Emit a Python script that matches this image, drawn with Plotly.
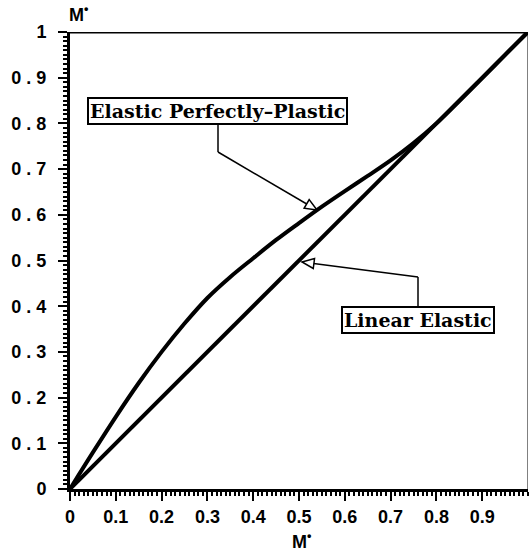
import plotly.graph_objects as go
import math

# ---- data ----
x_epp = [0, 0.05, 0.1, 0.15, 0.2, 0.25, 0.3, 0.35, 0.4, 0.45, 0.5, 0.55, 0.6, 0.65, 0.7, 0.75, 0.8, 0.85, 0.9, 0.95, 1.0]
y_epp = [0, 0.08, 0.158, 0.232, 0.30, 0.362, 0.418, 0.464, 0.505, 0.545, 0.582, 0.618, 0.652, 0.685, 0.719, 0.757, 0.80, 0.849, 0.899, 0.95, 1.0]
x_lin = [0, 1.0]
y_lin = [0, 1.0]

x_tickvals = [0, 0.1, 0.2, 0.3, 0.4, 0.5, 0.6, 0.7, 0.8, 0.9]
x_ticktext = ["0", "0.1", "0.2", "0.3", "0.4", "0.5", "0.6", "0.7", "0.8", "0.9"]
y_tickvals = [0, 0.1, 0.2, 0.3, 0.4, 0.5, 0.6, 0.7, 0.8, 0.9, 1.0]
y_ticktext = ["0", "0 . 1", "0 . 2", "0 . 3", "0 . 4", "0 . 5", "0 . 6", "0 . 7", "0 . 8", "0 . 9", "1"]

label_epp = "Elastic Perfectly\u2013Plastic"
label_lin = "Linear Elastic"
axis_title = "<b>M<sup>•</sup></b>"

# ---- layout geometry ----
W, H = 529, 555
ML, MR, MT, MB = 70, 1, 32, 66
PW, PH = W - ML - MR, H - MT - MB

def d(px, py):
    return ((px - ML) / PW, (H - MB - py) / PH)

fig = go.Figure()
fig.add_trace(go.Scatter(x=x_lin, y=y_lin, mode="lines", line=dict(color="black", width=4), showlegend=False))
fig.add_trace(go.Scatter(x=x_epp, y=y_epp, mode="lines", line=dict(color="black", width=4, shape="spline", smoothing=1), showlegend=False))

shapes = []
shapes.append(dict(type="line", xref="x", yref="y", x0=0, x1=1, y0=1, y1=1, line=dict(color="black", width=3)))
shapes.append(dict(type="line", xref="x", yref="y", x0=1, x1=1, y0=0, y1=1, line=dict(color="black", width=1)))

def leader(points, tip):
    out = []
    pts = points + [tip]
    for (a, b) in zip(pts[:-1], pts[1:]):
        (x0, y0), (x1, y1) = d(*a), d(*b)
        out.append(dict(type="line", xref="x", yref="y", x0=x0, y0=y0, x1=x1, y1=y1,
                        line=dict(color="black", width=1.5)))
    bx, by = pts[-2]
    tx, ty = tip
    dx, dy = tx - bx, ty - by
    n = math.hypot(dx, dy)
    ux, uy = dx / n, dy / n
    L, hw = 12, 5
    cx, cy = tx - L * ux, ty - L * uy
    p1 = (cx - hw * uy, cy + hw * ux)
    p2 = (cx + hw * uy, cy - hw * ux)
    tri = [d(tx, ty), d(*p1), d(*p2)]
    path = "M {} {} L {} {} L {} {} Z".format(tri[0][0], tri[0][1], tri[1][0], tri[1][1], tri[2][0], tri[2][1])
    out.append(dict(type="path", xref="x", yref="y", path=path, fillcolor="white",
                    line=dict(color="black", width=1.5)))
    return out

shapes += leader([(218, 124), (218, 152)], (317, 210))
shapes += leader([(418, 306), (418, 277)], (302, 262))

boxfont = dict(family="DejaVu Serif", size=19, color="black", weight="bold")
annotations = []
ax, ay = d(217, 111)
annotations.append(dict(x=ax, y=ay, xref="x", yref="y", text=label_epp, showarrow=False,
                        xanchor="center", yanchor="middle",
                        font=boxfont, bordercolor="black", borderwidth=2, borderpad=1, bgcolor="white"))
ax, ay = d(418, 320)
annotations.append(dict(x=ax, y=ay, xref="x", yref="y", text=label_lin, showarrow=False,
                        xanchor="center", yanchor="middle",
                        font=boxfont, bordercolor="black", borderwidth=2, borderpad=1, bgcolor="white"))
titlefont = dict(family="Liberation Sans", size=18, color="black")
ax, ay = d(78, 14)
annotations.append(dict(x=ax, y=ay, xref="paper", yref="paper", text=axis_title, xanchor="center",
                        yanchor="middle", showarrow=False, font=titlefont))
ax, ay = d(301, 540)
annotations.append(dict(x=ax, y=ay, xref="paper", yref="paper", text=axis_title, xanchor="center",
                        yanchor="middle", showarrow=False, font=titlefont))

tickfont = dict(family="Liberation Sans", size=18, color="black", weight="bold")
fig.update_layout(
    width=W, height=H,
    margin=dict(l=ML, r=MR, t=MT, b=MB),
    paper_bgcolor="white", plot_bgcolor="white",
    shapes=shapes, annotations=annotations,
    xaxis=dict(range=[0, 1], tickvals=x_tickvals, ticktext=x_ticktext, ticks="outside", ticklen=9,
               tickwidth=2, tickcolor="black", showline=True, linecolor="black", linewidth=3,
               showgrid=False, zeroline=False, tickfont=tickfont, ticklabelstandoff=0,
               minor=dict(dtick=0.01, ticks="outside", ticklen=4, tickwidth=1.5, tickcolor="black", showgrid=False)),
    yaxis=dict(range=[0, 1], tickvals=y_tickvals, ticktext=y_ticktext, ticks="outside", ticklen=9,
               tickwidth=2, tickcolor="black", showline=True, linecolor="black", linewidth=3,
               showgrid=False, zeroline=False, tickfont=tickfont, ticklabelstandoff=8,
               minor=dict(dtick=0.01, ticks="outside", ticklen=4, tickwidth=1.5, tickcolor="black", showgrid=False)),
)

fig.write_html("out.html")
